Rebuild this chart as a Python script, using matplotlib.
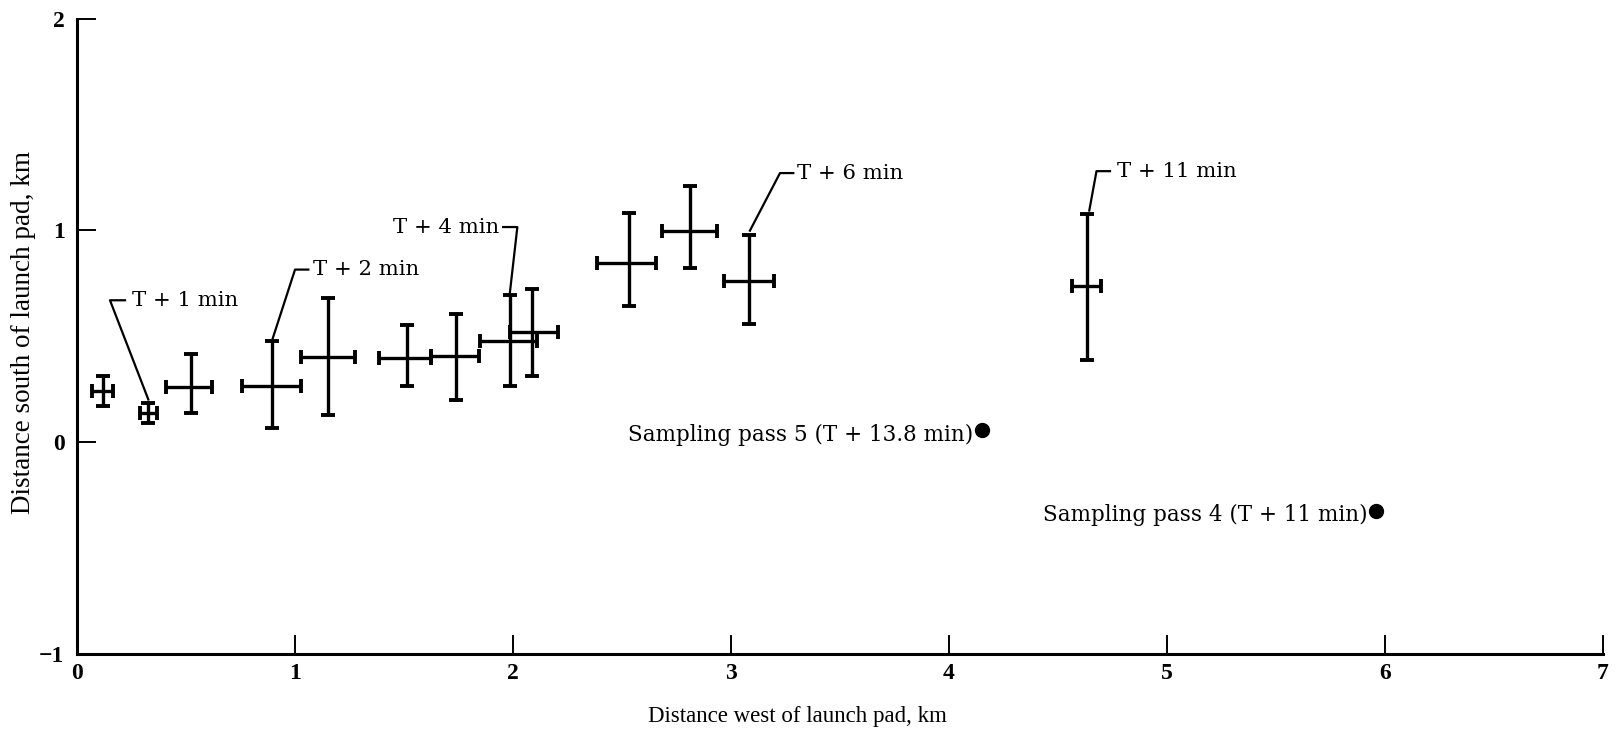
#
# Cloud position after launch - error bar chart
#
import numpy as np
import matplotlib.pyplot as plt

# cloud centre positions, km
x = [0.118, 0.327, 0.523, 0.893, 1.153, 1.512, 1.739, 1.986, 2.089, 2.532, 2.812, 3.083, 4.634]
y = [0.240, 0.137, 0.258, 0.266, 0.400, 0.397, 0.408, 0.476, 0.518, 0.846, 0.995, 0.759, 0.735]
x_lo = [0.070, 0.290, 0.410, 0.755, 1.026, 1.387, 1.622, 1.849, 1.986, 2.384, 2.685, 2.969, 4.563]
x_hi = [0.167, 0.365, 0.620, 1.026, 1.275, 1.622, 1.845, 2.110, 2.208, 2.655, 2.934, 3.199, 4.697]
y_lo = [0.170, 0.090, 0.137, 0.066, 0.129, 0.263, 0.200, 0.266, 0.310, 0.644, 0.822, 0.557, 0.386]
y_hi = [0.310, 0.184, 0.415, 0.476, 0.680, 0.550, 0.606, 0.696, 0.724, 1.082, 1.211, 0.979, 1.078]

# time labels: text, leader tip, corner, text anchor
t_labels = ["T + 1 min", "T + 2 min", "T + 4 min", "T + 6 min", "T + 11 min"]
tip_x = [0.327, 0.898, 1.986, 3.087, 4.644]
tip_y = [0.200, 0.490, 0.707, 0.998, 1.093]
corner_x = [0.151, 1.000, 2.020, 3.225, 4.677]
corner_y = [0.669, 0.814, 1.015, 1.270, 1.279]
hook_x = [0.220, 1.061, 1.955, 3.286, 4.739]
text_x = [0.250, 1.084, 1.939, 3.304, 4.772]

# sampling passes
pass_x = [4.15, 5.96]
pass_y = [0.054, -0.327]
pass_labels = ["Sampling pass 5 (T + 13.8 min)", "Sampling pass 4 (T + 11 min)"]

fig = plt.figure(figsize=(16.19, 7.31), dpi=100)
ax = fig.add_axes([0.0476, 0.106, 0.9424, 0.8686])

x = np.array(x)
y = np.array(y)
xerr = [x - np.array(x_lo), np.array(x_hi) - x]
yerr = [y - np.array(y_lo), np.array(y_hi) - y]
ax.errorbar(x, y, xerr=xerr, yerr=yerr, fmt="none", ecolor="black",
            elinewidth=2.4, capsize=5, capthick=2.8)

# leader lines and labels
for i, lab in enumerate(t_labels):
    ax.plot([tip_x[i], corner_x[i], hook_x[i]], [tip_y[i], corner_y[i], corner_y[i]],
            color="black", lw=1.6)
    ha = "right" if text_x[i] < corner_x[i] else "left"
    ax.text(text_x[i], corner_y[i], lab, ha=ha, va="center",
            family="DejaVu Serif", fontsize=15.3)

ax.plot(pass_x, pass_y, "o", color="black", markersize=10)
for px, py, lab in zip(pass_x, pass_y, pass_labels):
    ax.text(px - 0.04, py - 0.02, lab, ha="right", va="center",
            family="DejaVu Serif", fontsize=15.5)

# axes setup
ax.set_xlim(0, 7)
ax.set_ylim(-1, 2)
ax.set_xticks(range(0, 8))
ax.set_yticks([-1, 0, 1, 2])
for s in ["top", "right"]:
    ax.spines[s].set_visible(False)
for s in ["left", "bottom"]:
    ax.spines[s].set_linewidth(2.2)
ax.tick_params(axis="x", direction="in", length=14, width=1.4, pad=7, labelsize=17)
ax.tick_params(axis="y", direction="in", length=14, width=1.4, pad=9, labelsize=17)
for t in ax.get_xticklabels() + ax.get_yticklabels():
    t.set_family("Liberation Serif")
    t.set_fontweight("bold")
ax.set_xlabel("Distance west of launch pad, km", family="Liberation Serif",
              fontsize=16.5)
ax.xaxis.set_label_coords(0.472, -0.083)
ax.set_ylabel("Distance south of launch pad, km", family="Liberation Serif",
              fontsize=19.5)
ax.yaxis.set_label_coords(-0.027, 0.505)

plt.savefig("out.png", dpi=100)
